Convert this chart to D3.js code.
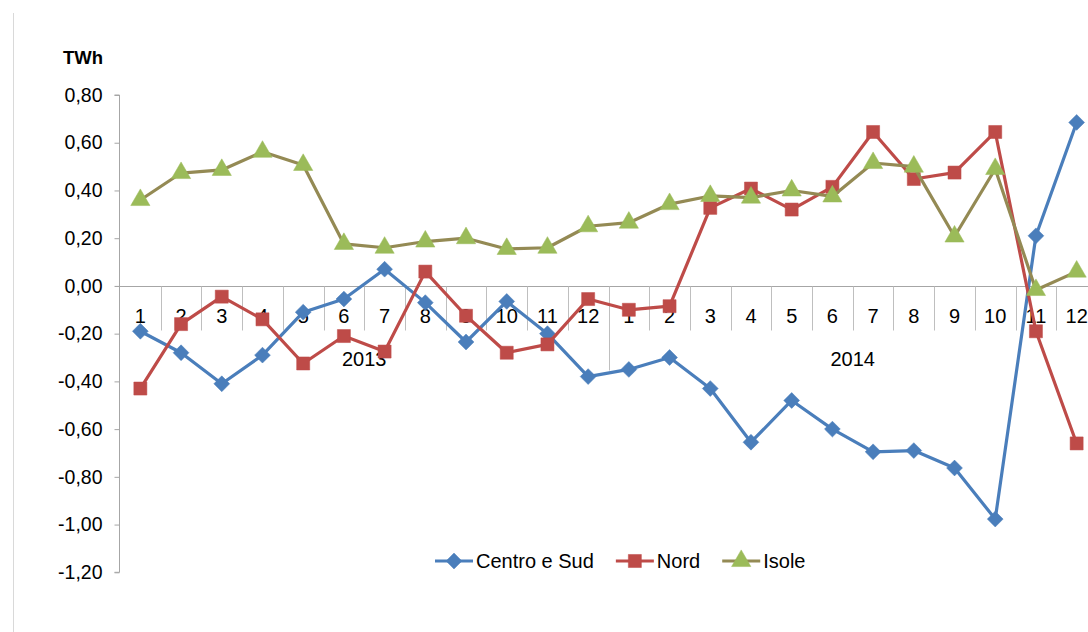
<!DOCTYPE html>
<html>
<head>
<meta charset="utf-8">
<script src="https://cdn.jsdelivr.net/npm/d3@7"></script>
<style>
  html, body { margin: 0; padding: 0; background: #fff; }
  svg { display: block; }
  text { font-family: "Liberation Sans", Arial, sans-serif; fill: #000; }
</style>
</head>
<body>
<svg id="chart" width="1088" height="632"></svg>
<script>
// Monthly categories, grouped by year
const months = ["1","2","3","4","5","6","7","8","9","10","11","12",
                "1","2","3","4","5","6","7","8","9","10","11","12"];
const years = ["2013", "2014"];
const yTicks = [0.8, 0.6, 0.4, 0.2, 0, -0.2, -0.4, -0.6, -0.8, -1.0, -1.2];

// Series values (TWh)
const centroSud = [-0.19, -0.28, -0.41, -0.29, -0.11, -0.055, 0.07, -0.07, -0.235, -0.065, -0.20, -0.38,
                   -0.35, -0.30, -0.43, -0.655, -0.48, -0.60, -0.695, -0.69, -0.763, -0.977, 0.21, 0.685];
const nord      = [-0.43, -0.16, -0.045, -0.14, -0.325, -0.21, -0.275, 0.06, -0.125, -0.28, -0.245, -0.055,
                   -0.10, -0.085, 0.327, 0.408, 0.32, 0.415, 0.645, 0.448, 0.475, 0.645, -0.19, -0.66];
const isole     = [0.36, 0.473, 0.486, 0.562, 0.507, 0.176, 0.16, 0.186, 0.20, 0.155, 0.16, 0.25,
                   0.265, 0.343, 0.377, 0.37, 0.40, 0.375, 0.515, 0.50, 0.207, 0.49, -0.017, 0.06];

const seriesNames = ["Centro e Sud", "Nord", "Isole"];

const series = [
  { name: seriesNames[0], values: centroSud, line: "#4a7ebb", fill: "#4a7ebb", marker: "diamond" },
  { name: seriesNames[1], values: nord,      line: "#be4b48", fill: "#be4b48", marker: "square" },
  { name: seriesNames[2], values: isole,     line: "#948a54", fill: "#9bbb59", marker: "triangle" }
];

const svg = d3.select("#chart");

// Outer chart frame (left edge visible)
svg.append("line")
  .attr("x1", 13.5).attr("x2", 13.5).attr("y1", 13).attr("y2", 632)
  .attr("stroke", "#d9d9d9").attr("stroke-width", 1);

const plotLeft = 120, plotRight = 1097, plotTop = 95, plotBottom = 572.3;

const x = d3.scaleBand()
  .domain(d3.range(months.length))
  .range([plotLeft, plotRight])
  .paddingInner(0).paddingOuter(0);

const y = d3.scaleLinear().domain([-1.2, 0.8]).range([plotBottom, plotTop]);

const cx = i => x(i) + x.bandwidth() / 2;
const axisColor = "#a6a6a6";

// Value axis
const yAxis = d3.axisLeft(y)
  .tickValues(yTicks)
  .tickSize(5)
  .tickPadding(12)
  .tickFormat(d => d3.format(".2f")(d).replace(".", ",").replace("−", "-"));

const gY = svg.append("g")
  .attr("transform", `translate(${plotLeft - 0.5},0)`)
  .call(yAxis);
gY.select(".domain").attr("stroke", axisColor).attr("stroke-width", 1)
  .attr("d", `M-5,${y(0.8)}H0V${y(-1.2)}H-5`);
gY.selectAll(".tick line").attr("stroke", axisColor);
gY.selectAll(".tick text").style("font-size", "19.5px").attr("fill", "#000");

// Unit label
svg.append("text")
  .attr("x", 83).attr("y", 64)
  .attr("text-anchor", "middle")
  .style("font-size", "18.5px").style("font-weight", "bold")
  .text("TWh");

// Category axis along zero
const y0 = Math.round(y(0)) + 0.5;
svg.append("line")
  .attr("x1", plotLeft - 5).attr("x2", plotRight)
  .attr("y1", y0).attr("y2", y0)
  .attr("stroke", axisColor).attr("stroke-width", 1);

const gX = svg.append("g");
// month separators
gX.selectAll("line.sep")
  .data(d3.range(1, months.length))
  .join("line")
  .attr("class", "sep")
  .attr("x1", i => Math.round(x(i)) + 0.5)
  .attr("x2", i => Math.round(x(i)) + 0.5)
  .attr("y1", y0)
  .attr("y2", i => (i % 12 === 0) ? y0 + 84 : y0 + 44)
  .attr("stroke", "#bfbfbf").attr("stroke-width", 1);

gX.selectAll("text.month")
  .data(months)
  .join("text")
  .attr("class", "month")
  .attr("x", (d, i) => cx(i))
  .attr("y", y0 + 36)
  .attr("text-anchor", "middle")
  .style("font-size", "20px")
  .text(d => d);

gX.selectAll("text.year")
  .data(years)
  .join("text")
  .attr("class", "year")
  .attr("x", (d, k) => (x(k * 12) + x(k * 12 + 11) + x.bandwidth()) / 2)
  .attr("y", y0 + 79)
  .attr("text-anchor", "middle")
  .style("font-size", "20px")
  .text(d => d);

// Marker shapes
function markerPath(type) {
  if (type === "diamond") return d3.symbol().type(d3.symbolSquare).size(125)();
  if (type === "square") return d3.symbol().type(d3.symbolSquare).size(170)();
  return d3.symbol().type(d3.symbolTriangle).size(160)();
}
function markerTransform(type, px, py) {
  return type === "diamond" ? `translate(${px},${py}) rotate(45)` : `translate(${px},${py})`;
}

const line = d3.line().x((d, i) => cx(i)).y(d => y(d));

series.forEach(s => {
  const g = svg.append("g");
  g.append("path")
    .attr("d", line(s.values))
    .attr("fill", "none")
    .attr("stroke", s.line)
    .attr("stroke-width", 3.2)
    .attr("stroke-linejoin", "round");
  g.selectAll("path.m")
    .data(s.values)
    .join("path")
    .attr("class", "m")
    .attr("d", markerPath(s.marker))
    .attr("transform", (d, i) => markerTransform(s.marker, cx(i), y(d)))
    .attr("fill", s.fill)
    .attr("stroke", s.fill)
    .attr("stroke-width", 0.5);
});

// Legend
const legend = svg.append("g");
let lx = 435;
const ly = 561;
series.forEach(s => {
  const item = legend.append("g").attr("transform", `translate(${lx},${ly})`);
  item.append("line")
    .attr("x1", 0).attr("x2", 38).attr("y1", 0).attr("y2", 0)
    .attr("stroke", s.line).attr("stroke-width", 3.2);
  item.append("path")
    .attr("d", markerPath(s.marker))
    .attr("transform", markerTransform(s.marker, 19, 0))
    .attr("fill", s.fill).attr("stroke", s.fill).attr("stroke-width", 0.5);
  const t = item.append("text")
    .attr("x", 41).attr("y", 7)
    .style("font-size", "20px")
    .text(s.name);
  lx += 41 + t.node().getComputedTextLength() + 22;
});
</script>
</body>
</html>
